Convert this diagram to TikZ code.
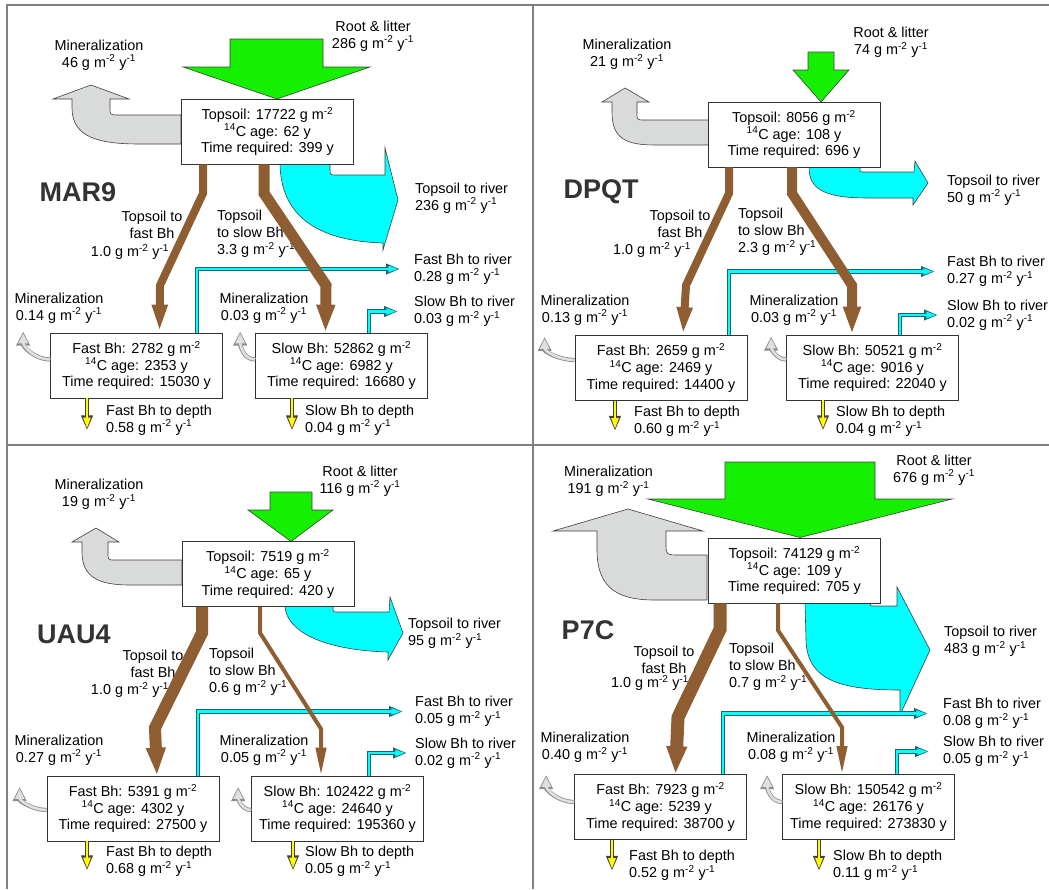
\documentclass[tikz,border=0pt]{standalone}
\usepackage{fontspec}
\setmainfont{Liberation Sans}
\usepackage{xcolor}
\usepackage{tikz}
\usetikzlibrary{arrows.meta}

\definecolor{litgreen}{RGB}{20,240,0}
\definecolor{mingrey}{RGB}{217,218,218}
\definecolor{soilbrown}{RGB}{142,94,50}
\definecolor{rivercyan}{RGB}{0,255,255}
\definecolor{riveredge}{RGB}{30,100,110}
\definecolor{depthyellow}{RGB}{255,250,0}

\newcommand{\fluxunit}{g m\textsuperscript{-2} y\textsuperscript{-1}}
\newcommand{\areal}{g m\textsuperscript{-2}}
\newcommand{\cage}{\textsuperscript{14}C age}

\tikzset{
	panelline/.style={draw=black!50, line width=2pt},
	pool/.style={draw=black!80, line width=0.7pt, fill=white, align=center,
		minimum width=172pt, minimum height=65pt, inner sep=2pt},
	site/.style={font=\fontsize{27}{30}\selectfont\bfseries, text=black!80, inner sep=0pt},
	note/.style={align=center, inner sep=0pt},
	sidenote/.style={align=left, anchor=west, inner sep=0pt},
	litter/.style={fill=litgreen, draw=black!75, line width=0.6pt},
	mineral/.style={fill=mingrey, draw=black!75, line width=0.6pt},
	river/.style={fill=rivercyan, draw=black!75, line width=0.6pt},
	burial/.style 2 args={draw=soilbrown, line width=#1, -{Triangle[length=28pt,width=#2]}},
	tosea/.style={draw=rivercyan, line width=2.2pt, shorten >=1.6pt, -{Triangle[length=10pt,width=6pt]},
		preaction={draw=riveredge, line width=4.4pt, shorten >=0pt, -{Triangle[length=14pt,width=10pt]}}},
	depth/.style={draw=depthyellow, line width=2.6pt, shorten >=1.8pt, -{Triangle[length=11pt,width=7pt]},
		preaction={draw=black!75, line width=4.4pt, shorten >=0pt, -{Triangle[length=15pt,width=11pt]}}},
	loss/.style={draw=black!12, line width=2.6pt, shorten >=1.8pt, -{Triangle[length=10pt,width=9pt]},
		preaction={draw=black!45, line width=4.2pt, shorten >=0pt, -{Triangle[length=14pt,width=13pt]}}}
}

\begin{document}
\begin{tikzpicture}[x=1pt,y=-1pt,font=\fontsize{14.4}{16.8}\selectfont]
	\useasboundingbox (0,0) rectangle (1049,889);
	\draw[panelline] (1049,5) -- (7,5) -- (7,889);
	\draw[panelline] (533,5) -- (533,889);
	\draw[panelline] (7,445) -- (1049,445);
	
	% MAR9
	\draw[litter] (230,39) -- (323,39) -- (323,67) -- (370,67) -- (277,99) -- (183,67) -- (230,67) -- cycle;
	\draw[mineral] (181,115) -- (119,115) .. controls (110,115) .. (110,107) -- (110,99) -- (129,99) -- (91,85) -- (53,99) -- (72,99) -- (72,108) .. controls (72,138) and (100,144) .. (140,144) -- (181,144) -- cycle;
	\draw[river] (280,164) -- (330,164) -- (330,169) .. controls (330,175) .. (337,175) -- (385,175) -- (385,148) -- (398,200) -- (383,250) -- (383,243) .. controls (320,241) and (281,218) .. (280,164) -- cycle;
	\node[pool] (top1) at (267.5,131.5) {Topsoil: 17722 \areal\\\cage: 62 y\\Time required: 399 y};
	\node[pool] (fast1) at (136.5,365.5) {Fast Bh: 2782 \areal\\\cage: 2353 y\\Time required: 15030 y};
	\node[pool] (slow1) at (341.5,365.5) {Slow Bh: 52862 \areal\\\cage: 6982 y\\Time required: 16680 y};
	\node[site] (site1) at (78,192) {MAR9};
	\node[note] (min1) at (99,55) {Mineralization\\46 \fluxunit};
	\node[note] (root1) at (373,36) {Root \& litter\\286 \fluxunit};
	\node[sidenote] (riv1) at (415,198) {Topsoil to river\\236 \fluxunit};
	\node[note] (tf1) at (152,225) {Topsoil to\\fast Bh};
	\node[note] (tfv1) at (130,252) {1.0 \fluxunit};
	\node[sidenote] (ts1) at (217,234) {Topsoil\\to slow Bh\\3.3 \fluxunit};
	\node[sidenote] (frl1) at (414,269) {Fast Bh to river\\0.28 \fluxunit};
	\node[sidenote] (srl1) at (414,311.5) {Slow Bh to river\\0.03 \fluxunit};
	\node[note] (fml1) at (59,308) {Mineralization\\0.14 \fluxunit};
	\node[note] (sml1) at (264,308) {Mineralization\\0.03 \fluxunit};
	\node[sidenote] (fdl1) at (106,420) {Fast Bh to depth\\0.58 \fluxunit};
	\node[sidenote] (sdl1) at (305,420) {Slow Bh to depth\\0.04 \fluxunit};
	\draw[tosea] ([xshift=60.5pt]fast1.north) |- ([xshift=-14pt]frl1.west);
	\draw[tosea] ([xshift=27.5pt]slow1.north) |- ([xshift=-16pt]srl1.west);
	\draw[burial={8pt}{14pt}] ([xshift=-64.5pt]top1.south) -- ++(0,29) -- ++(-43,92) -- ([xshift=23pt]fast1.north);
	\draw[burial={11pt}{17pt}] ([xshift=-3.5pt]top1.south) -- ++(0,29) -- ++(62,92) -- ([xshift=-16pt]slow1.north);
	\draw[loss] ([yshift=6pt]fast1.west) to[out=180,in=-90] ++(-27,-28);
	\draw[loss] ([yshift=6pt]slow1.west) to[out=180,in=-90] ++(-15,-28);
	\draw[depth] ([xshift=-49.5pt]fast1.south) -- ++(0,32);
	\draw[depth] ([xshift=-49.5pt]slow1.south) -- ++(0,32);
	
	% DPQT
	\draw[litter] (808,52) -- (834,52) -- (834,70) -- (849,70) -- (821,102) -- (793,70) -- (808,70) -- cycle;
	\draw[mineral] (711,120) -- (645,120) .. controls (637,120) .. (637,113) -- (637,102) -- (649,102) -- (625,88) -- (602,102) -- (612,102) -- (612,112) .. controls (612,138) and (625,145) .. (655,145) -- (711,145) -- cycle;
	\draw[river] (809,167) -- (860,167) -- (860,169) .. controls (860,172) .. (866,172) -- (914,172) -- (915,161) -- (928,183) -- (913,205) -- (913,198) -- (868,198) .. controls (822,198) and (809,188) .. (809,167) -- cycle;
	\node[pool] (top2) at (794,134.5) {Topsoil: 8056 \areal\\\cage: 108 y\\Time required: 696 y};
	\node[pool] (fast2) at (661,368) {Fast Bh: 2659 \areal\\\cage: 2469 y\\Time required: 14400 y};
	\node[pool] (slow2) at (872.5,367.5) {Slow Bh: 50521 \areal\\\cage: 9016 y\\Time required: 22040 y};
	\node[site] (site2) at (601,192) {DPQT};
	\node[note] (min2) at (627,54.5) {Mineralization\\21 \fluxunit};
	\node[note] (root2) at (891,42.5) {Root \& litter\\74 \fluxunit};
	\node[sidenote] (riv2) at (947,190) {Topsoil to river\\50 \fluxunit};
	\node[note] (tf2) at (680,223.5) {Topsoil to\\fast Bh};
	\node[note] (tfv2) at (652,250) {1.0 \fluxunit};
	\node[sidenote] (ts2) at (738,232) {Topsoil\\to slow Bh\\2.3 \fluxunit};
	\node[sidenote] (frl2) at (947,271.5) {Fast Bh to river\\0.27 \fluxunit};
	\node[sidenote] (srl2) at (947,315) {Slow Bh to river\\0.02 \fluxunit};
	\node[note] (fml2) at (585,310) {Mineralization\\0.13 \fluxunit};
	\node[note] (sml2) at (794,310) {Mineralization\\0.03 \fluxunit};
	\node[sidenote] (fdl2) at (634,421.5) {Fast Bh to depth\\0.60 \fluxunit};
	\node[sidenote] (sdl2) at (836,421.5) {Slow Bh to depth\\0.04 \fluxunit};
	\draw[tosea] ([xshift=68pt]fast2.north) |- ([xshift=-12pt]frl2.west);
	\draw[tosea] ([xshift=27.5pt]slow2.north) |- ([xshift=-9pt]srl2.west);
	\draw[burial={8pt}{14pt}] ([xshift=-65pt]top2.south) -- ++(0,26) -- ++(-43,92) -- ([xshift=22pt]fast2.north);
	\draw[burial={10pt}{16pt}] ([xshift=-2pt]top2.south) -- ++(0,26) -- ++(60,92) -- ([xshift=-20.5pt]slow2.north);
	\draw[loss] ([yshift=8pt]fast2.west) to[out=180,in=-90] ++(-30,-23);
	\draw[loss] ([yshift=8pt]slow2.west) to[out=180,in=-90] ++(-15,-23);
	\draw[depth] ([xshift=-46pt]fast2.south) -- ++(0,30);
	\draw[depth] ([xshift=-49.5pt]slow2.south) -- ++(0,30);
	
	% UAU4
	\draw[litter] (270,492) -- (312,492) -- (312,510) -- (333,510) -- (291,541.5) -- (248,510) -- (270,510) -- cycle;
	\draw[mineral] (182,560) -- (115,560) .. controls (108,560) .. (108,553) -- (108,542) -- (119,542) -- (96,528) -- (72,542) -- (82,542) -- (82,552) .. controls (82,578) and (100,585) .. (130,585) -- (182,585) -- cycle;
	\draw[river] (285,606) -- (333,606) -- (333,608) .. controls (333,612) .. (339,612) -- (389,612) -- (390,597) -- (403,633) -- (388,660) -- (388,652) .. controls (320,650) and (286,630) .. (285,606) -- cycle;
	\node[pool] (top3) at (268,574) {Topsoil: 7519 \areal\\\cage: 65 y\\Time required: 420 y};
	\node[pool] (fast3) at (133,808.5) {Fast Bh: 5391 \areal\\\cage: 4302 y\\Time required: 27500 y};
	\node[pool] (slow3) at (337.5,808.5) {Slow Bh: 102422 \areal\\\cage: 24640 y\\Time required: 195360 y};
	\node[site] (site3) at (74,634) {UAU4};
	\node[note] (min3) at (99,494.5) {Mineralization\\19 \fluxunit};
	\node[note] (root3) at (360,481) {Root \& litter\\116 \fluxunit};
	\node[sidenote] (riv3) at (408,633.5) {Topsoil to river\\95 \fluxunit};
	\node[note] (tf3) at (153,663.5) {Topsoil to\\fast Bh};
	\node[note] (tfv3) at (130,690) {1.0 \fluxunit};
	\node[sidenote] (ts3) at (209,672) {Topsoil\\to slow Bh\\0.6 \fluxunit};
	\node[sidenote] (frl3) at (415,711.5) {Fast Bh to river\\0.05 \fluxunit};
	\node[sidenote] (srl3) at (415,753) {Slow Bh to river\\0.02 \fluxunit};
	\node[note] (fml3) at (59,750) {Mineralization\\0.27 \fluxunit};
	\node[note] (sml3) at (264,750) {Mineralization\\0.05 \fluxunit};
	\node[sidenote] (fdl3) at (106,861.5) {Fast Bh to depth\\0.68 \fluxunit};
	\node[sidenote] (sdl3) at (305,861.5) {Slow Bh to depth\\0.05 \fluxunit};
	\draw[tosea] ([xshift=65pt]fast3.north) |- ([xshift=-12pt]frl3.west);
	\draw[tosea] ([xshift=31.5pt]slow3.north) |- ([xshift=-8pt]srl3.west);
	\draw[burial={12pt}{18pt}] ([xshift=-66pt]top3.south) -- ++(0,26) -- ++(-47,95) -- ([xshift=24pt]fast3.north);
	\draw[burial={4pt}{10pt}] ([xshift=-8pt]top3.south) -- ++(0,26) -- ++(61,96) -- ([xshift=-16.5pt]slow3.north);
	\draw[loss] ([yshift=-1.5pt]fast3.west) to[out=180,in=-90] ++(-27,-23);
	\draw[loss] ([yshift=-1.5pt]slow3.west) to[out=180,in=-90] ++(-13,-23);
	\draw[depth] ([xshift=-46pt]fast3.south) -- ++(0,29);
	\draw[depth] ([xshift=-44.5pt]slow3.south) -- ++(0,29);
	
	% P7C
	\draw[litter] (725,462) -- (875,462) -- (875,499) -- (952,499) -- (800,537.5) -- (648,499) -- (725,499) -- cycle;
	\draw[mineral] (707,555) -- (680,555) .. controls (666,555) .. (666,542) -- (666,531) -- (703,531) -- (628,509) -- (553,531) -- (597,531) -- (597,550) .. controls (597,590) and (620,600) .. (655,600) -- (707,600) -- cycle;
	\draw[river] (805,603) -- (870,603) .. controls (870,606) .. (875,606) -- (897,606) -- (897,587) -- (930,650) -- (900,715) -- (900,690) .. controls (840,690) and (807,680) .. (806,640) -- cycle;
	\node[pool] (top4) at (794.5,570.5) {Topsoil: 74129 \areal\\\cage: 109 y\\Time required: 705 y};
	\node[pool] (fast4) at (660.5,807) {Fast Bh: 7923 \areal\\\cage: 5239 y\\Time required: 38700 y};
	\node[pool] (slow4) at (868.5,807) {Slow Bh: 150542 \areal\\\cage: 26176 y\\Time required: 273830 y};
	\node[site] (site4) at (588,630) {P7C};
	\node[note] (min4) at (608.5,481.5) {Mineralization\\191 \fluxunit};
	\node[note] (root4) at (934,470) {Root \& litter\\676 \fluxunit};
	\node[sidenote] (riv4) at (944,641.5) {Topsoil to river\\483 \fluxunit};
	\node[note] (tf4) at (664,659.5) {Topsoil to\\fast Bh};
	\node[note] (tfv4) at (650,683) {1.0 \fluxunit};
	\node[sidenote] (ts4) at (729,667) {Topsoil\\to slow Bh\\0.7 \fluxunit};
	\node[sidenote] (frl4) at (943,713.5) {Fast Bh to river\\0.08 \fluxunit};
	\node[sidenote] (srl4) at (943,751.5) {Slow Bh to river\\0.05 \fluxunit};
	\node[note] (fml4) at (585,747.5) {Mineralization\\0.40 \fluxunit};
	\node[note] (sml4) at (791,747.5) {Mineralization\\0.08 \fluxunit};
	\node[sidenote] (fdl4) at (629,865.5) {Fast Bh to depth\\0.52 \fluxunit};
	\node[sidenote] (sdl4) at (833,865.5) {Slow Bh to depth\\0.11 \fluxunit};
	\draw[tosea] ([xshift=62.5pt]fast4.north) |- ([xshift=-15pt]frl4.west);
	\draw[tosea] ([xshift=28.5pt]slow4.north) |- ([xshift=-14pt]srl4.west);
	\draw[burial={13pt}{19pt}] ([xshift=-74.5pt]top4.south) -- ++(0,26) -- ++(-42,88) -- ([xshift=15pt]fast4.north);
	\draw[burial={4pt}{10pt}] ([xshift=-16.5pt]top4.south) -- ++(0,27) -- ++(64,97) -- ([xshift=-26.5pt]slow4.north);
	\draw[loss] ([yshift=5pt]fast4.west) to[out=180,in=-90] ++(-28,-27);
	\draw[loss] ([yshift=5pt]slow4.west) to[out=180,in=-90] ++(-15,-27);
	\draw[depth] ([xshift=-48.5pt]fast4.south) -- ++(0,31);
	\draw[depth] ([xshift=-49.5pt]slow4.south) -- ++(0,31);
\end{tikzpicture}
\end{document}
